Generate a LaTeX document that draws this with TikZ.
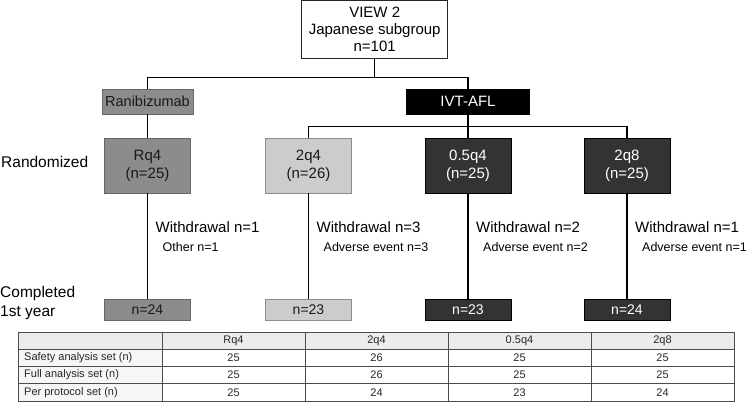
\documentclass[tikz,border=0pt]{standalone}
\usepackage{fontspec}
\setmainfont{Liberation Sans}

\definecolor{armgray}{RGB}{140,140,140}
\definecolor{armlight}{RGB}{204,204,204}
\definecolor{armdark}{RGB}{51,51,51}

\begin{document}
\begin{tikzpicture}[x=1pt, y=-1pt]

% Define styles
\tikzstyle{box}=[draw, inner sep=0pt, align=center, line width=0.7pt, font=\fontsize{15}{18}\selectfont]
\tikzstyle{rbox}=[box, fill=armgray, draw=black!60, text=black!90]
\tikzstyle{lbox}=[box, fill=armlight, draw=black!45, text=black!90]
\tikzstyle{dbox}=[box, fill=armdark, draw=black, text=white]
\tikzstyle{arm}=[minimum width=86pt, minimum height=55pt]
\tikzstyle{done}=[minimum width=86pt, minimum height=21pt, font=\fontsize{14}{16}\selectfont]
\tikzstyle{wd}=[anchor=west, inner sep=0pt, font=\fontsize{15}{18}\selectfont]
\tikzstyle{why}=[anchor=west, inner sep=0pt, font=\fontsize{12.5}{15}\selectfont]
\tikzstyle{link}=[line width=1.1pt]
\tikzstyle{tline}=[line width=0.7pt, draw=black!70]
\tikzstyle{cell}=[inner sep=0pt, text=black!85, font=\fontsize{11}{13}\selectfont]

% Parameters
\def\colw{143}
\def\rowh{17.27}

\useasboundingbox (0,0) rectangle (750,402);

% Study and treatment arms
\node[box, fill=white, draw=black!85, minimum width=146pt, minimum height=57.6pt, font=\fontsize{15}{17}\selectfont] (view) at (374.7,29.5) {VIEW 2\\Japanese subgroup\\n=101};
\node[rbox, minimum width=91pt, minimum height=24.7pt, font=\fontsize{14.5}{17}\selectfont] (rani) at (147.5,101.7) {Ranibizumab};
\node[dbox, fill=black, minimum width=123pt, minimum height=24.7pt] (ivt) at (468,101.7) {IVT-AFL};

% Randomized and completed boxes
\foreach \nm/\cx/\sty/\lab/\n/\fin in {rq4/147.5/rbox/Rq4/25/24, 2q4/308.5/lbox/2q4/26/23, 05q4/468/dbox/0.5q4/25/23, 2q8/627/dbox/2q8/25/24} {
  \node[\sty, arm] (g\nm) at (\cx,165.5) {\lab\\(n=\n)};
  \node[\sty, done] (c\nm) at (\cx,309.5) {n=\fin};
  \draw[link] (g\nm) -- (c\nm);
}

% Withdrawals
\foreach \nm/\cx/\k/\why in {rq4/147.5/1/Other n=1, 2q4/308.5/3/Adverse event n=3, 05q4/468/2/Adverse event n=2, 2q8/627/1/Adverse event n=1} {
  \node[wd] (w\nm) at (\cx+8,226.7) {Withdrawal n=\k};
  \node[why] (y\nm) at (\cx+15,246.7) {\why};
}

% Connectors
\draw[link] (view.south) -- ++(0,18.5) coordinate (fork);
\draw[link] (fork) -| (rani.north);
\draw[link] (fork) -| (ivt.north);
\draw[link] (rani) -- (grq4);
\draw[link] (ivt.south) -- ++(0,12) coordinate (split);
\draw[link] (split) -| (g2q4.north);
\draw[link] (split) -- (g05q4.north);
\draw[link] (split) -| (g2q8.north);

% Row labels
\node[anchor=west, inner sep=0pt, font=\fontsize{15.5}{18}\selectfont] (rand) at (1,162) {Randomized};
\node[anchor=west, inner sep=0pt, align=left, font=\fontsize{15.5}{18.5}\selectfont] (compl) at (0,303) {Completed\\1st year};

% Table
\fill[gray!15] (18,332) rectangle (734,349.2);
\fill[gray!7] (18,349.2) rectangle (162,401);
\foreach \y in {349.2,366.5,383.8} \draw[tline] (18,\y) -- (734,\y);
\foreach \x in {162,305,448,591} \draw[tline] (\x,332) -- (\x,401);
\draw[tline] (18,332) rectangle (734,401);

\foreach \lab [count=\i] in {Rq4,2q4,0.5q4,2q8} {
  \node[cell] (h\i) at ({233.5+\colw*(\i-1)},340.6) {\lab};
}
\foreach \rname/\a/\b/\c/\d [count=\r] in {{Safety analysis set (n)}/25/26/25/25, {Full analysis set (n)}/25/26/25/25, {Per protocol set (n)}/25/24/23/24} {
  \pgfmathsetmacro{\yy}{349.2+0.5*\rowh+\rowh*(\r-1)}
  \node[cell, anchor=west] (s\r) at (24,\yy) {\rname};
  \foreach \v [count=\i] in {\a,\b,\c,\d} {
    \node[cell] (v\r\i) at ({233.5+\colw*(\i-1)},\yy) {\v};
  }
}

\end{tikzpicture}
\end{document}
